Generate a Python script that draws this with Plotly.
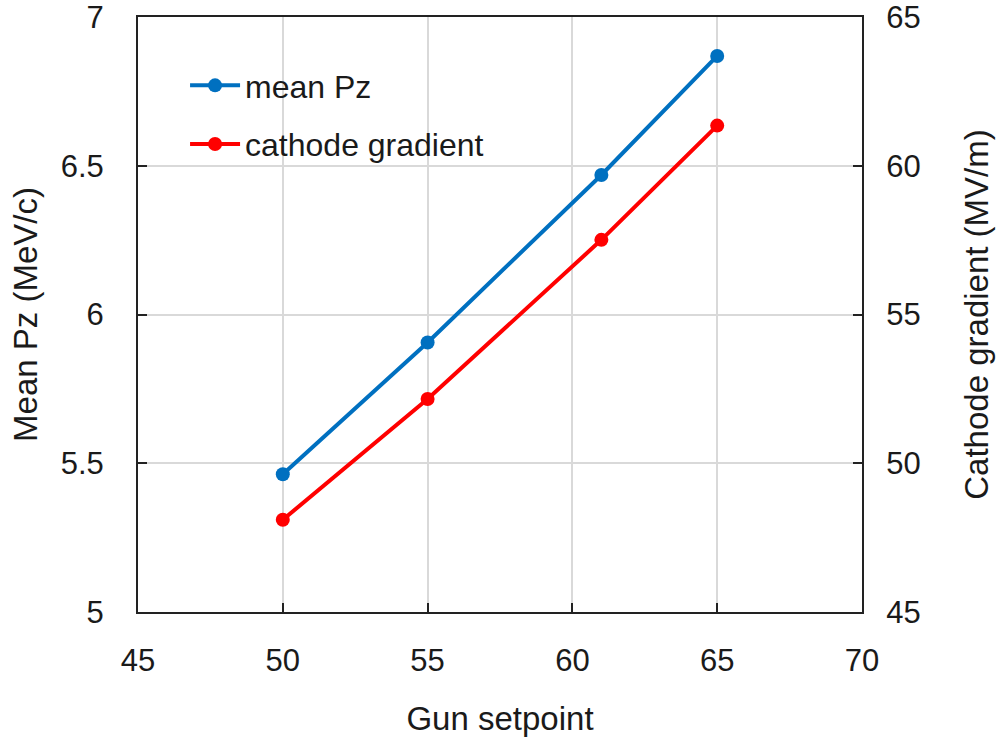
import plotly.graph_objects as go
from plotly.subplots import make_subplots

# Gun setpoint scan
gun_setpoint = [50, 55, 61, 65]
mean_pz = [5.463, 5.906, 6.469, 6.869]          # MeV/c
cathode_gradient = [48.10, 52.16, 57.51, 61.35]  # MV/m

x_ticks = [45, 50, 55, 60, 65, 70]
left_ticks = [5, 5.5, 6, 6.5, 7]
right_ticks = [45, 50, 55, 60, 65]

FONT = "Liberation Sans, Arial, sans-serif"
TXT = "#1a1a1a"

fig = make_subplots(specs=[[{"secondary_y": True}]])

fig.add_trace(go.Scatter(
    x=gun_setpoint, y=mean_pz, name="mean Pz", mode="lines+markers",
    line=dict(color="#0070C0", width=4),
    marker=dict(color="#0070C0", size=14),
    legendgroup="a",
), secondary_y=False)

fig.add_trace(go.Scatter(
    x=gun_setpoint, y=cathode_gradient, name="cathode gradient", mode="lines+markers",
    line=dict(color="#FF0000", width=4),
    marker=dict(color="#FF0000", size=14),
    legendgroup="b",
), secondary_y=True)

axis_common = dict(
    showline=True, linecolor="#222", linewidth=2,
    ticks="inside", ticklen=9, tickwidth=1.5, tickcolor="#222",
    showgrid=True, gridcolor="#d9d9d9", gridwidth=1.5,
    zeroline=False, automargin=False, ticklabeloverflow="allow",
    tickfont=dict(family=FONT, size=31, color=TXT),
)

TITLE_FONT = dict(family=FONT, size=33, color=TXT)

fig.update_xaxes(
    range=[45, 70], tickvals=x_ticks, mirror=True, domain=[0, 1],
    ticklabelstandoff=20,
    title=dict(text="Gun setpoint", font=TITLE_FONT, standoff=30),
    **axis_common,
)
fig.update_yaxes(
    range=[5, 7], tickvals=left_ticks, ticktext=["5", "5.5", "6", "6.5", "7"],
    ticklabelstandoff=26,
    title=dict(text="Mean Pz (MeV/c)", font=TITLE_FONT, standoff=13),
    secondary_y=False, **axis_common,
)
right_common = dict(axis_common)
right_common["showgrid"] = False
fig.update_yaxes(
    range=[45, 65], tickvals=right_ticks,
    ticklabelstandoff=16,
    title=dict(text="Cathode gradient (MV/m)", font=TITLE_FONT, standoff=45),
    secondary_y=True, **right_common,
)

fig.update_layout(
    width=998, height=738,
    margin=dict(l=138, r=136, t=17, b=126),
    paper_bgcolor="white", plot_bgcolor="white",
    font=dict(family=FONT, color=TXT),
    showlegend=True,
    legend=dict(
        x=0.065, y=0.931, xanchor="left", yanchor="top",
        bgcolor="rgba(0,0,0,0)", borderwidth=0,
        font=dict(family=FONT, size=32, color=TXT),
        tracegroupgap=14, itemwidth=50,
    ),
)

fig.write_html("out.html")
